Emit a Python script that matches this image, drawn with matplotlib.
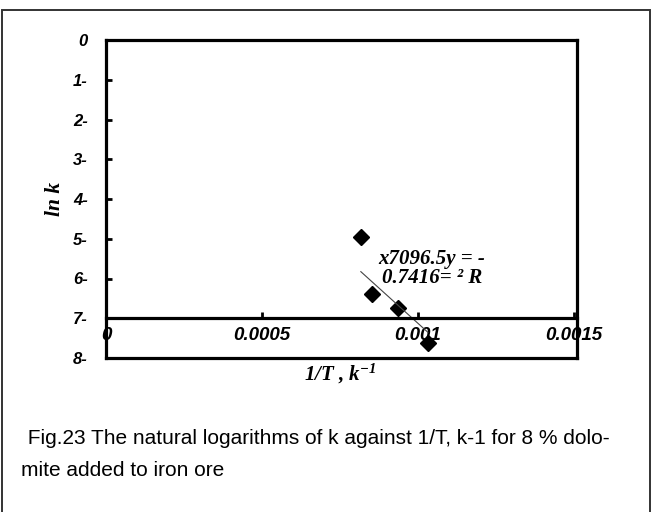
import numpy as np
import matplotlib
matplotlib.use("Agg")
from matplotlib import pyplot as plt
from matplotlib.patches import Rectangle

### data
inv_T = [0.000817, 0.000852, 0.000936, 0.001032]
ln_k = [-4.96, -6.39, -6.74, -7.62]

# trendline as printed on the chart (y = -7096.5x ...)
trend_slope = -7096.5
trend_intercept = -0.03

x_ticks = [0, 0.0005, 0.001, 0.0015]
x_tick_labels = ['0', '0.0005', '0.001', '0.0015']
y_ticks = [0, -1, -2, -3, -4, -5, -6, -7, -8]
y_tick_labels = ['0', '1-', '2-', '3-', '4-', '5-', '6-', '7-', '8-']

eq_lines = ['x7096.5y = -', '0.7416= \u00b2 R']
caption_1 = ' Fig.23 The natural logarithms of k against 1/T, k-1 for 8 % dolo-'
caption_2 = 'mite added to iron ore'

plt.rcParams['mathtext.default'] = 'regular'

W, H = 654, 512
fig = plt.figure(figsize=(W / 100, H / 100), dpi=100)

# outer frame round the whole figure
fig.patches.append(Rectangle((2 / W, -0.05), 648 / W, 1.05 - 10 / H,
                             transform=fig.transFigure, fill=False,
                             edgecolor='#333333', linewidth=1.4))

ax = fig.add_axes([106 / W, 1 - 358 / H, 471 / W, 318 / H])

ax.plot(inv_T, ln_k, linestyle='none', marker='D', markersize=8.5,
        color='black')

# linear trendline over the data range
xs = np.array([min(inv_T), max(inv_T)])
ax.plot(xs, trend_slope * xs + trend_intercept, color='#444444',
        linewidth=0.8)

ax.set_xlim(0, 0.00151)
ax.set_ylim(-8, 0)

# x axis sits on the ln k = -7 line, box closed at the bottom
ax.spines['bottom'].set_position(('data', -7))
ax.axhline(-8, color='black', linewidth=2.3, clip_on=False)
for s in ['top', 'right', 'left', 'bottom']:
    ax.spines[s].set_linewidth(2.3)

ax.set_xticks(x_ticks)
ax.set_xticklabels(x_tick_labels, fontsize=13.5, fontweight='bold',
                   fontstyle='italic', family='Liberation Sans')
ax.set_yticks(y_ticks)
ax.set_yticklabels(y_tick_labels, fontsize=12, fontweight='bold',
                   fontstyle='italic', family='Liberation Sans')
ax.tick_params(axis='x', direction='in', length=4, width=2, pad=6)
ax.tick_params(axis='y', direction='in', length=4, width=2, pad=13)

ax.set_xlabel('1/T , k$^{-1}$', fontsize=15, fontweight='bold',
              fontstyle='italic', family='Liberation Serif')
ax.xaxis.set_label_coords(0.497, -0.012)
ax.set_ylabel('ln k', fontsize=15.5, fontweight='bold', fontstyle='italic',
              family='Liberation Serif')
ax.yaxis.set_label_coords(-0.088, 0.5)

# trendline equation
for i, line in enumerate(eq_lines):
    fig.text(432 / W, 1 - (259 + 19 * i) / H, line, ha='center',
             va='center', fontsize=15, fontweight='bold',
             fontstyle='italic', family='Liberation Serif')

# caption
fig.text(22 / W, 1 - 439 / H, caption_1, ha='left', va='center',
         fontsize=15, family='Liberation Sans')
fig.text(21 / W, 1 - 470 / H, caption_2, ha='left', va='center',
         fontsize=15, family='Liberation Sans')

fig.savefig('out.png', dpi=100)
